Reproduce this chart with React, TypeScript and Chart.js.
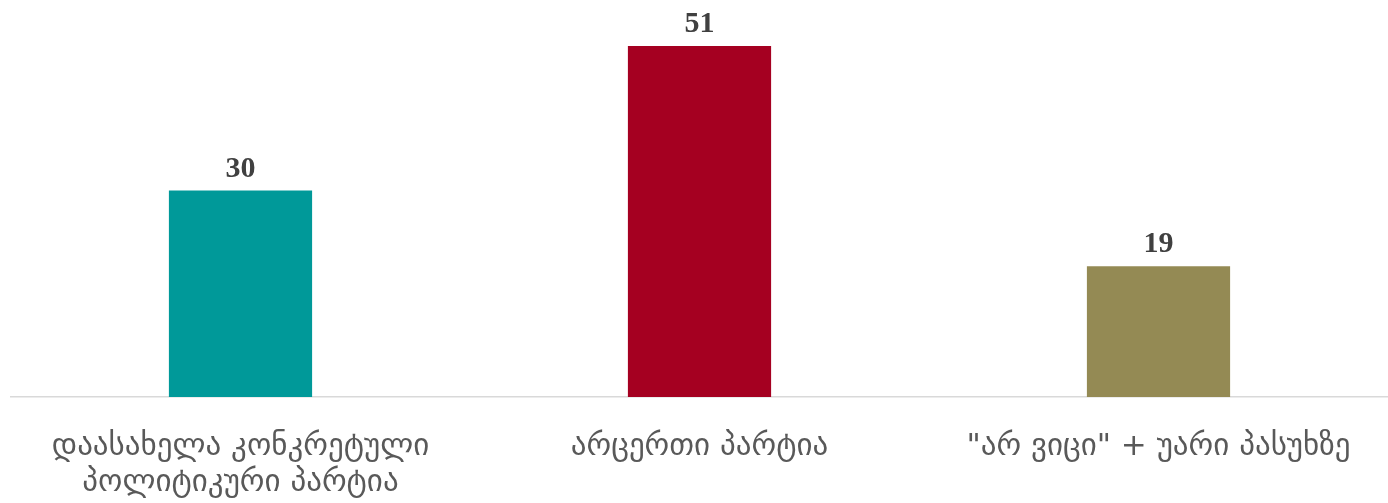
import React, { useEffect, useRef } from "react";
import { Chart, registerables } from "chart.js";

Chart.register(...registerables);

const categories: (string | string[])[] = [
  ["დაასახელა კონკრეტული", "პოლიტიკური პარტია"],
  "არცერთი პარტია",
  "\"არ ვიცი\" + უარი პასუხზე",
];
const values = [30, 51, 19];
const colors = ["#009999", "#A50021", "#948A54"];

const valueLabels = {
  id: "valueLabels",
  afterDatasetsDraw(chart: any) {
    const ctx = chart.ctx;
    const meta = chart.getDatasetMeta(0);
    ctx.save();
    ctx.font = "bold 30px 'Liberation Serif'";
    ctx.fillStyle = "#404040";
    ctx.textAlign = "center";
    ctx.textBaseline = "alphabetic";
    meta.data.forEach((bar: any, i: number) => {
      ctx.fillText(String(values[i]), bar.x, bar.y - 14);
    });
    ctx.restore();
  },
};

export default function App() {
  const ref = useRef<HTMLCanvasElement>(null);
  useEffect(() => {
    document.body.style.margin = "0";
    const chart = new Chart(ref.current!, {
      type: "bar",
      data: {
        labels: categories,
        datasets: [
          {
            data: values,
            backgroundColor: colors,
            categoryPercentage: 1,
            barPercentage: 0.312,
          },
        ],
      },
      options: {
        animation: false,
        responsive: false,
        layout: { padding: { left: 11, right: 0, top: 0, bottom: 0 } },
        plugins: { legend: { display: false }, tooltip: { enabled: false } },
        scales: {
          x: {
            grid: { display: false },
            border: { display: true, color: "#D9D9D9", width: 1.5 },
            ticks: {
              color: "#595959",
              font: { family: "'DejaVu Sans'", size: 31, lineHeight: 1.15 },
              padding: 24,
              maxRotation: 0,
              autoSkip: false,
            },
            afterFit: (s: any) => {
              s.height = 106;
            },
          },
          y: { display: false, min: 0, max: 57.7 },
        },
      },
      plugins: [valueLabels],
    });
    return () => chart.destroy();
  }, []);
  return <canvas ref={ref} width={1388} height={503} style={{ display: "block" }} />;
}
